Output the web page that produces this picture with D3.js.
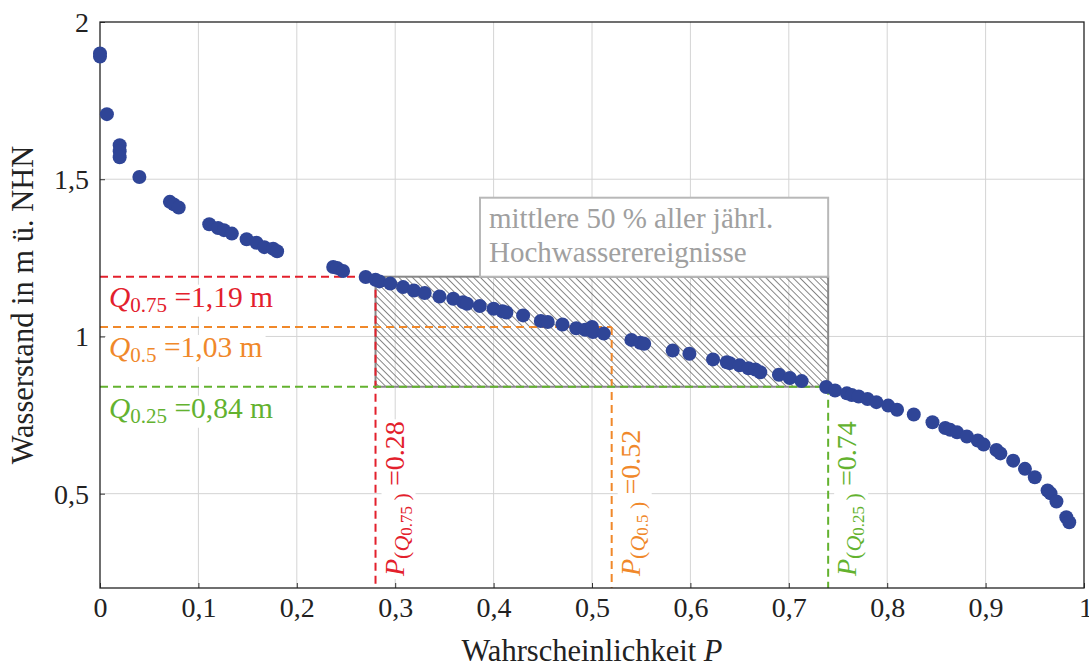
<!DOCTYPE html>
<html><head><meta charset="utf-8">
<script src="https://cdn.jsdelivr.net/npm/d3@7"></script>
</head><body style="margin:0">
<svg id="c" width="1089" height="668"></svg>
<script>
// data: exceedance probability P and water level (m ü. NHN)
const pVals = [0.000,0.000,0.007,0.020,0.020,0.020,0.040,0.071,0.075,0.080,0.111,0.120,0.126,0.134,0.149,0.159,0.167,0.176,0.180,0.237,0.241,0.247,0.270,0.280,0.284,0.295,0.308,0.319,0.330,0.345,0.359,0.369,0.373,0.386,0.400,0.409,0.413,0.430,0.448,0.455,0.470,0.484,0.493,0.500,0.501,0.512,0.540,0.549,0.553,0.582,0.599,0.623,0.637,0.640,0.650,0.659,0.666,0.671,0.690,0.701,0.713,0.738,0.747,0.759,0.764,0.771,0.780,0.789,0.801,0.810,0.827,0.846,0.859,0.864,0.871,0.881,0.892,0.898,0.911,0.915,0.928,0.940,0.950,0.963,0.966,0.972,0.982,0.985];
const hVals = [1.900,1.890,1.707,1.608,1.589,1.570,1.507,1.428,1.420,1.410,1.357,1.345,1.338,1.327,1.309,1.298,1.284,1.279,1.271,1.221,1.218,1.208,1.189,1.180,1.175,1.168,1.157,1.146,1.138,1.127,1.120,1.109,1.104,1.097,1.088,1.080,1.076,1.067,1.049,1.046,1.038,1.026,1.021,1.030,1.014,1.009,0.989,0.980,0.977,0.955,0.945,0.927,0.918,0.915,0.908,0.899,0.895,0.886,0.878,0.868,0.858,0.839,0.828,0.819,0.814,0.809,0.801,0.791,0.780,0.767,0.752,0.727,0.709,0.703,0.695,0.682,0.669,0.656,0.639,0.628,0.605,0.579,0.552,0.510,0.501,0.475,0.425,0.409];
const xTicks = [0,0.1,0.2,0.3,0.4,0.5,0.6,0.7,0.8,0.9,1];
const yTicks = [0.5,1,1.5,2];
const quantNames = ["0.75","0.5","0.25"];
const quantLevels = [1.19,1.03,0.84];
const quantProbs = [0.28,0.52,0.74];
const quantLevelLabels = ["1,19","1,03","0,84"];
const quantProbLabels = ["0.28","0.52","0.74"];
const quantColors = ["#e3202c","#f0882a","#63b22f"];
const boxLines = ["mittlere 50 % aller jährl.","Hochwasserereignisse"];

const svg = d3.select("#c");
const L=100,R=1084,T=22,B=588;
const x = d3.scaleLinear().domain([0,1]).range([L,R]);
const y = d3.scaleLinear().domain([0.2,2]).range([B,T]);
const fmt = d => String(d).replace(".",",");
const setFont = s => s.style("font-family", `"Liberation Serif"`);
const tx = sel => setFont(sel.append("text"));

// hatch pattern
const defs = svg.append("defs");
const pat = defs.append("pattern").attr("id","hatch").attr("patternUnits","userSpaceOnUse")
  .attr("width",10).attr("height",4.8).attr("patternTransform","rotate(45)");
pat.append("line").attr("x1",0).attr("x2",10).attr("y1",0).attr("y2",0).attr("stroke","#555").attr("stroke-width",1.4);

// grid
svg.append("g").selectAll("line").data(xTicks.slice(1,-1)).join("line")
  .attr("x1",d=>x(d)).attr("x2",d=>x(d)).attr("y1",T).attr("y2",B).attr("stroke","#d4d4d4").attr("stroke-width",1);
svg.append("g").selectAll("line").data(yTicks.filter(d=>d<2)).join("line")
  .attr("y1",d=>y(d)).attr("y2",d=>y(d)).attr("x1",L).attr("x2",R).attr("stroke","#d4d4d4").attr("stroke-width",1);

// axes
const gx = svg.append("g").attr("transform",`translate(0,${B})`)
  .call(d3.axisBottom(x).tickValues(xTicks).tickFormat(fmt).tickSize(-5).tickPadding(9));
const gy = svg.append("g").attr("transform",`translate(${L},0)`)
  .call(d3.axisLeft(y).tickValues(yTicks).tickFormat(fmt).tickSize(-5).tickPadding(11));
[gx,gy].forEach(g=>{
  g.attr("font-family",null);
  g.select(".domain").remove();g.selectAll(".tick line").attr("stroke","#333");
  setFont(g.selectAll("text")).attr("font-size",28).attr("fill","#222");});
gx.selectAll("text").attr("dy","0.71em");
gx.selectAll(".tick").filter(d=>d===1).select("text").attr("text-anchor","end").attr("dx","0.3em");
gy.selectAll("text").attr("dy","0.34em");

// hatched rect (middle 50%)
svg.append("rect").attr("x",x(quantProbs[0])).attr("y",y(quantLevels[0]))
  .attr("width",x(quantProbs[2])-x(quantProbs[0])).attr("height",y(quantLevels[2])-y(quantLevels[0]))
  .attr("fill","url(#hatch)").attr("stroke","#888").attr("stroke-width",2);

// text box
const bx0=480, bx1=x(quantProbs[2]), by1=y(quantLevels[0]), by0=by1-79;
svg.append("rect").attr("x",bx0).attr("y",by0).attr("width",bx1-bx0).attr("height",by1-by0)
  .attr("fill","#fff").attr("stroke","#b8b8b8").attr("stroke-width",2);
boxLines.forEach((d,i)=>tx(svg).attr("x",bx0+9).attr("y",by0+30+i*34).attr("font-size",29).attr("fill","#a0a0a0").text(d));

// dashed quantile lines
quantLevels.forEach((q,i)=>{
  const c=quantColors[i];
  svg.append("line").attr("x1",x(0)).attr("x2",x(quantProbs[i])).attr("y1",y(q)).attr("y2",y(q))
    .attr("stroke",c).attr("stroke-width",2).attr("stroke-dasharray","8,5");
  svg.append("line").attr("x1",x(quantProbs[i])).attr("x2",x(quantProbs[i])).attr("y1",y(q)).attr("y2",B)
    .attr("stroke",c).attr("stroke-width",2).attr("stroke-dasharray","8,5");
});

// Q labels
const qOff=[30,30,31];
quantNames.forEach((n,i)=>{
  const c=quantColors[i];
  const bg = svg.append("rect").attr("fill","#fff");
  const t = tx(svg).attr("x",109).attr("y",y(quantLevels[i])+qOff[i]).attr("font-size",29.5).attr("fill",c);
  t.append("tspan").attr("font-style","italic").text("Q");
  t.append("tspan").attr("font-size",21).attr("dy",5).text(n);
  t.append("tspan").attr("dy",-5).text(" =" + quantLevelLabels[i] + " m");
  const bb=t.node().getBBox();
  bg.attr("x",bb.x-3).attr("y",bb.y+4).attr("width",bb.width+6).attr("height",bb.height-4);
});

// rotated P labels
quantNames.forEach((n,i)=>{
  const c=quantColors[i];
  const g = svg.append("g").attr("transform",`translate(${x(quantProbs[i])+28},576) rotate(-90)`);
  const bg = g.append("rect").attr("fill","#fff");
  const t = tx(g).attr("x",0).attr("y",0).attr("font-size",28).attr("fill",c);
  t.append("tspan").attr("font-style","italic").text("P");
  t.append("tspan").attr("font-size",22).attr("dy",5).text("(");
  t.append("tspan").attr("font-size",22).attr("font-style","italic").text("Q");
  t.append("tspan").attr("font-size",17).attr("dy",3).text(n);
  t.append("tspan").attr("font-size",22).attr("dy",-3).text(" )");
  t.append("tspan").attr("dy",-5).text(" =" + quantProbLabels[i]);
  const bb=t.node().getBBox();
  bg.attr("x",bb.x-2).attr("y",bb.y+3).attr("width",bb.width+4).attr("height",bb.height-3);
});

// frame
svg.append("rect").attr("x",L).attr("y",T).attr("width",R-L).attr("height",B-T)
  .attr("fill","none").attr("stroke","#222").attr("stroke-width",1.3);

// points
svg.append("g").selectAll("circle").data(pVals.map((p,i)=>[p,hVals[i]])).join("circle")
  .attr("cx",d=>x(d[0])).attr("cy",d=>y(d[1])).attr("r",7).attr("fill","#2f4597");

// axis labels
tx(svg).attr("x",(L+R)/2).attr("y",661).attr("text-anchor","middle").attr("font-size",30.5).attr("fill","#222")
  .call(t=>{t.append("tspan").text("Wahrscheinlichkeit ");t.append("tspan").attr("font-style","italic").text("P");});
tx(svg).attr("transform",`translate(33,${(T+B)/2}) rotate(-90)`).attr("text-anchor","middle")
  .attr("font-size",30.5).attr("fill","#222").text("Wasserstand in m ü. NHN");
</script>
</body></html>
